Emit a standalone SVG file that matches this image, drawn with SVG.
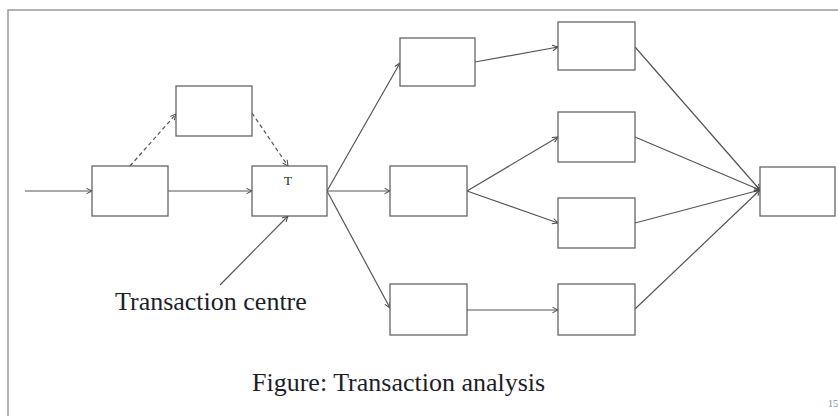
<svg xmlns="http://www.w3.org/2000/svg" width="838" height="416" viewBox="0 0 838 416">
  <style>
    .box { fill: #ffffff; stroke: #666666; stroke-width: 1.3; }
    .link { fill: none; stroke: #555555; stroke-width: 1.2; marker-end: url(#open); }
    .dash { stroke-dasharray: 4 3; }
    .label { font-family: "Liberation Serif", "Times New Roman", serif; fill: #1e1e28; }
  </style>
  <defs>
    <marker id="open" viewBox="0 0 10 10" refX="9" refY="5" markerWidth="7" markerHeight="7" markerUnits="userSpaceOnUse" orient="auto">
      <path d="M1,1 L9,5 L1,9" fill="none" stroke="#444444" stroke-width="1.4"/>
    </marker>
  </defs>
  <rect width="838" height="416" fill="#ffffff"/>

  <!-- page frame -->
  <path d="M8,416 V10 H838" fill="none" stroke="#999999" stroke-width="1.5"/>

  <!-- connectors -->
  <g id="connectors">
    <line class="link" x1="25" y1="191" x2="92" y2="191"/>
    <line class="link" x1="168" y1="191" x2="252" y2="191"/>
    <line class="link dash" x1="130" y1="166" x2="176" y2="114"/>
    <line class="link dash" x1="252" y1="113" x2="288" y2="166"/>
    <line class="link" x1="327" y1="191" x2="400" y2="63"/>
    <line class="link" x1="327" y1="191" x2="390" y2="191"/>
    <line class="link" x1="327" y1="191" x2="390" y2="308"/>
    <line class="link" x1="475" y1="62" x2="558" y2="47"/>
    <line class="link" x1="467" y1="191" x2="558" y2="137"/>
    <line class="link" x1="467" y1="191" x2="558" y2="223"/>
    <line class="link" x1="467" y1="310" x2="558" y2="310"/>
    <line class="link" x1="635" y1="47" x2="760" y2="190"/>
    <line class="link" x1="635" y1="137" x2="760" y2="190"/>
    <line class="link" x1="635" y1="223" x2="760" y2="190"/>
    <line class="link" x1="635" y1="309" x2="760" y2="190"/>
    <line class="link" x1="220" y1="285" x2="288" y2="216"/>
  </g>

  <!-- nodes -->
  <g id="node-input"><rect class="box" x="92" y="166" width="76" height="50"/></g>
  <g id="node-side"><rect class="box" x="176" y="86" width="76" height="50"/></g>
  <g id="node-transaction">
    <rect class="box" x="252" y="166" width="75" height="50"/>
    <text class="label" x="288" y="185" font-size="13" text-anchor="middle">T</text>
  </g>
  <g id="node-branch1"><rect class="box" x="400" y="38" width="75" height="48"/></g>
  <g id="node-branch2"><rect class="box" x="390" y="166" width="77" height="50"/></g>
  <g id="node-branch3"><rect class="box" x="390" y="284" width="77" height="51"/></g>
  <g id="node-step1"><rect class="box" x="558" y="22" width="77" height="48"/></g>
  <g id="node-step2"><rect class="box" x="558" y="112" width="77" height="50"/></g>
  <g id="node-step3"><rect class="box" x="558" y="198" width="77" height="50"/></g>
  <g id="node-step4"><rect class="box" x="558" y="284" width="77" height="51"/></g>
  <g id="node-output"><rect class="box" x="760" y="167" width="75" height="49"/></g>

  <!-- labels -->
  <text class="label" x="115" y="310" font-size="26">Transaction centre</text>
  <text class="label" x="252" y="391" font-size="26">Figure: Transaction analysis</text>
  <text x="828" y="407" font-family="Liberation Serif, serif" font-size="10" fill="#7a8aa0">15</text>
</svg>
